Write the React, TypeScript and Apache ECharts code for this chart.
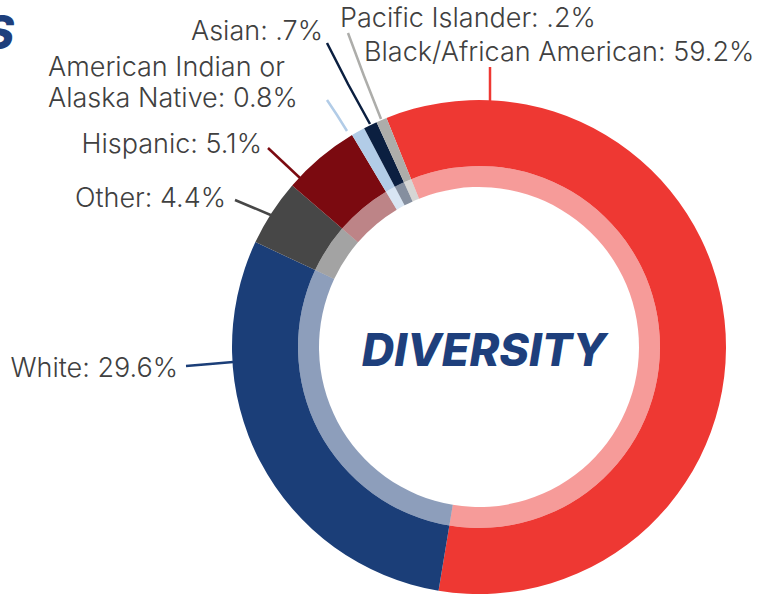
import React, { useEffect, useRef } from "react";
import * as echarts from "echarts";

const categories = [
  "Black/African American",
  "White",
  "Other",
  "Hispanic",
  "American Indian or\nAlaska Native",
  "Asian",
  "Pacific Islander",
];
const percentLabels = ["59.2%", "29.6%", "4.4%", "5.1%", "0.8%", ".7%", ".2%"];
// slice sizes as drawn in the picture (small groups are drawn wider than their share)
const sliceValues = [59.2, 29.6, 4.4, 5.1, 0.9, 0.9, 0.7];
const colors = ["#EE3833", "#1B3E78", "#474747", "#7B0A10", "#B2CCE7", "#0B1F40", "#ADADAA"];

// label anchor and leader line layout
const labelLayouts = [
  { x: 364, y: 51, align: "left", pts: [[490, 101], [490, 84], [490, 67]] },
  { x: 178, y: 367, align: "right", pts: [[233, 362], [210, 364], [186, 366]] },
  { x: 226, y: 197, align: "right", pts: [[273, 216], [254, 208], [235, 200]] },
  { x: 262, y: 143, align: "right", pts: [[300, 178], [284, 163], [268, 148]] },
  { x: 48, y: 82, align: "left", pts: [[347, 131], [337, 115], [327, 100]] },
  { x: 323, y: 30, align: "right", pts: [[370, 124], [348, 84], [327, 43]] },
  { x: 340, y: 17, align: "left", pts: [[381, 119], [364, 76], [348, 33]] },
];

const FONT = "Inter, 'Open Sans', sans-serif";

export default function App() {
  const ref = useRef<HTMLDivElement>(null);
  useEffect(() => {
    const chart = echarts.init(ref.current!, null, { renderer: "svg" });
    const outerData = categories.map((c, i) => ({
      name: c,
      value: sliceValues[i],
      itemStyle: { color: colors[i] },
      label: { formatter: `${c}: ${percentLabels[i]}` },
    }));
    const innerData = categories.map((c, i) => ({
      name: c,
      value: sliceValues[i],
      itemStyle: { color: colors[i], opacity: 0.5 },
    }));
    chart.setOption({
      animation: false,
      backgroundColor: "#ffffff",
      graphic: [
        {
          type: "text",
          x: 14,
          y: 9,
          style: {
            text: "S",
            fill: "#1E3F7C",
            align: "right",
            verticalAlign: "top",
            font: `italic 800 46px ${FONT}`,
          },
        },
      ],
      series: [
        {
          type: "pie",
          center: [479, 347],
          radius: [181, 247],
          startAngle: 112,
          silent: true,
          avoidLabelOverlap: false,
          data: outerData,
          label: {
            show: true,
            color: "#404040",
            fontFamily: FONT,
            fontWeight: 300,
            fontSize: 27,
            lineHeight: 31,
            overflow: "none",
            bleedMargin: 0,
            edgeDistance: 0,
          },
          labelLine: { show: true, smooth: false, lineStyle: { width: 2.5 } },
          labelLayout: (p: any) => {
            const l = labelLayouts[p.dataIndex];
            return {
              x: l.x,
              y: l.y,
              align: l.align,
              verticalAlign: "middle",
              hideOverlap: false,
              labelLinePoints: l.pts,
            };
          },
        },
        {
          type: "pie",
          center: [479, 347],
          radius: [160, 181],
          startAngle: 112,
          silent: true,
          data: innerData,
          label: { show: false },
          labelLine: { show: false },
        },
      ],
      title: {
        text: "DIVERSITY",
        left: 479,
        top: 322,
        textAlign: "center",
        textStyle: {
          color: "#1E3F7C",
          fontFamily: FONT,
          fontWeight: 800,
          fontStyle: "italic",
          fontSize: 45,
        },
      },
    });
    return () => chart.dispose();
  }, []);
  return <div ref={ref} style={{ width: 769, height: 595, position: "absolute", left: 0, top: 0 }} />;
}
